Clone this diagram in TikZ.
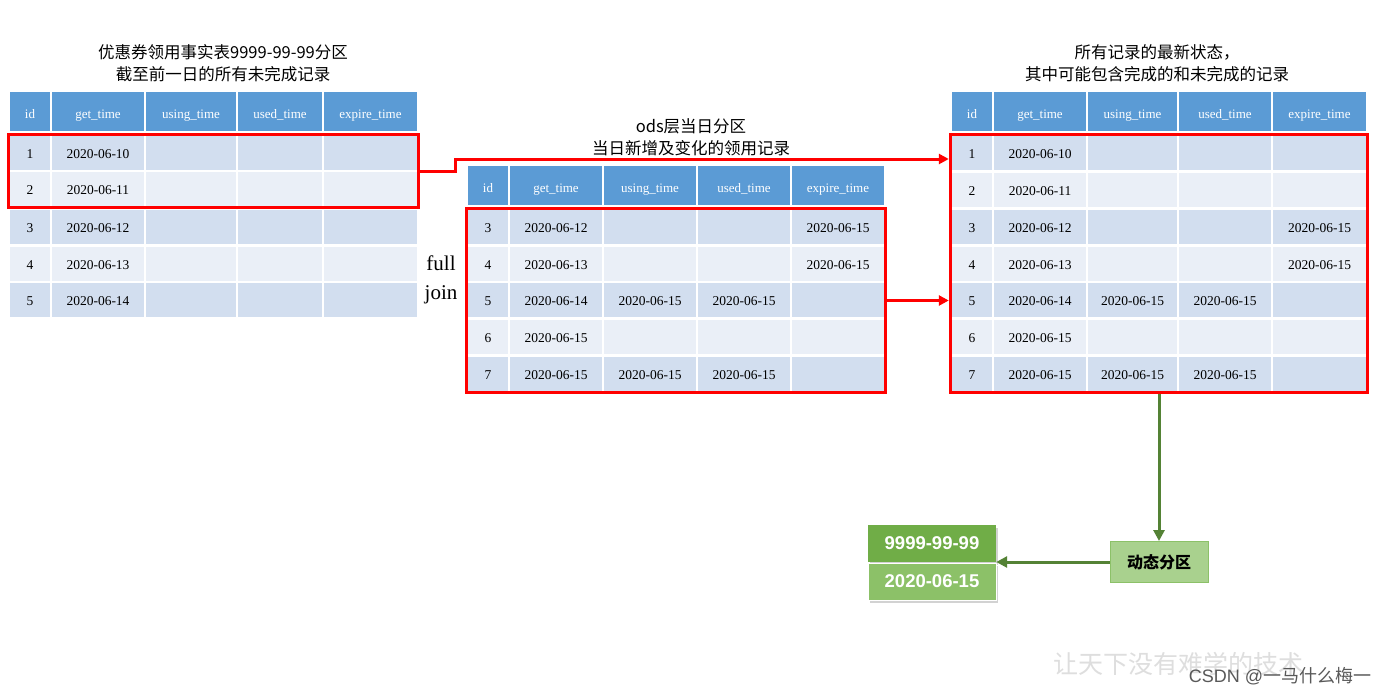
\documentclass[tikz,border=0pt]{standalone}
\usepackage{fontspec}
\setmainfont{Liberation Serif}
\newfontfamily\cjk{Noto Sans CJK SC}
\newfontfamily\arialfont{Liberation Sans}
\usetikzlibrary{arrows.meta, positioning, fit, shadows}
\definecolor{headblue}{RGB}{91,155,213}
\definecolor{rowdark}{RGB}{210,222,239}
\definecolor{rowlight}{RGB}{234,239,247}
\definecolor{selred}{RGB}{255,0,0}
\definecolor{partgreen}{RGB}{112,173,71}
\definecolor{partgreenlt}{RGB}{140,193,104}
\definecolor{dyngreen}{RGB}{169,209,142}
\definecolor{arrgreen}{RGB}{84,130,53}

\begin{document}
\begin{tikzpicture}[x=1pt, y=-1pt,
  head/.style={fill=headblue, text=white, minimum height=39, inner sep=0pt,
               text height=15pt, text depth=2pt,
               font=\fontsize{13}{15}\selectfont},
  cell/.style={minimum height=34, inner sep=0pt,
               text height=12pt, text depth=2pt,
               font=\fontsize{13.5}{15}\selectfont},
  title/.style={align=center, font=\cjk\fontsize{16.5}{22}\selectfont},
  selbox/.style={draw=selred, line width=3pt, inner sep=1.5pt},
  partbox/.style={minimum width=128, minimum height=37, text=white,
                  font=\arialfont\bfseries\fontsize{18.5}{20}\selectfont,
                  drop shadow={opacity=0.35, shadow xshift=1.5pt, shadow yshift=-3pt}},
  dynbox/.style={fill=dyngreen, draw=partgreenlt, line width=1pt,
                 minimum width=98, minimum height=41,
                 font=\cjk\bfseries\fontsize{16}{18}\selectfont},
  rarr/.style={-{Triangle[length=10pt, width=10pt]}, line width=3pt, selred},
  garr/.style={-{Triangle[length=11pt, width=11pt]}, line width=3pt, arrgreen}
]
\path[use as bounding box, fill=white] (0,0) rectangle (1390,693);

% titles
\node[title] (ttl1) at (223,63) {优惠券领用事实表9999-99-99分区\\截至前一日的所有未完成记录};
\node[title] (ttl2) at (691,137) {ods层当日分区\\当日新增及变化的领用记录};
\node[title] (ttl3) at (1157,63) {所有记录的最新状态，\\其中可能包含完成的和未完成的记录};

% table 1: 9999-99-99 partition
\foreach \col/\cx/\cw/\hd in {1/30/40/id, 2/98/92/get\_time, 3/191/90/using\_time,
                               4/280/84/used\_time, 5/370.5/93/expire\_time}
  \node[head, minimum width=\cw] (t1-h-\col) at (\cx,111.5) {\hd};
\foreach \rw/\y/\ga in {1/153/2020-06-10, 2/189/2020-06-11, 3/227/2020-06-12,
                        4/264/2020-06-13, 5/300/2020-06-14} {
  \ifodd\rw\relax \def\rf{rowdark}\else \def\rf{rowlight}\fi
  \node[cell, fill=\rf, minimum width=40] (t1-\rw-1) at (30,\y) {\rw};
  \node[cell, fill=\rf, minimum width=92] (t1-\rw-2) at (98,\y) {\ga};
  \node[cell, fill=\rf, minimum width=90] (t1-\rw-3) at (191,\y) {};
  \node[cell, fill=\rf, minimum width=84] (t1-\rw-4) at (280,\y) {};
  \node[cell, fill=\rf, minimum width=93] (t1-\rw-5) at (370.5,\y) {};
}

% table 2: ods partition of the day
\foreach \col/\cx/\cw/\hd in {1/488/40/id, 2/556/92/get\_time, 3/650/92/using\_time,
                               4/744/92/used\_time, 5/838/92/expire\_time}
  \node[head, minimum width=\cw] (t2-h-\col) at (\cx,185.5) {\hd};
\foreach \rw/\y/\ga/\gb/\gc/\gd in {
    3/227/2020-06-12/{}/{}/2020-06-15,
    4/264/2020-06-13/{}/{}/2020-06-15,
    5/300/2020-06-14/2020-06-15/2020-06-15/{},
    6/337/2020-06-15/{}/{}/{},
    7/374/2020-06-15/2020-06-15/2020-06-15/{}} {
  \ifodd\rw\relax \def\rf{rowdark}\else \def\rf{rowlight}\fi
  \node[cell, fill=\rf, minimum width=40] (t2-\rw-1) at (488,\y) {\rw};
  \node[cell, fill=\rf, minimum width=92] (t2-\rw-2) at (556,\y) {\ga};
  \node[cell, fill=\rf, minimum width=92] (t2-\rw-3) at (650,\y) {\gb};
  \node[cell, fill=\rf, minimum width=92] (t2-\rw-4) at (744,\y) {\gc};
  \node[cell, fill=\rf, minimum width=92] (t2-\rw-5) at (838,\y) {\gd};
}

% table 3: latest state
\foreach \col/\cx/\cw/\hd in {1/972/40/id, 2/1040/92/get\_time, 3/1132.5/89/using\_time,
                               4/1225/92/used\_time, 5/1319.5/93/expire\_time}
  \node[head, minimum width=\cw] (t3-h-\col) at (\cx,111.5) {\hd};
\foreach \rw/\y/\ga/\gb/\gc/\gd in {
    1/153/2020-06-10/{}/{}/{},
    2/190/2020-06-11/{}/{}/{},
    3/227/2020-06-12/{}/{}/2020-06-15,
    4/264/2020-06-13/{}/{}/2020-06-15,
    5/300/2020-06-14/2020-06-15/2020-06-15/{},
    6/337/2020-06-15/{}/{}/{},
    7/374/2020-06-15/2020-06-15/2020-06-15/{}} {
  \ifodd\rw\relax \def\rf{rowdark}\else \def\rf{rowlight}\fi
  \node[cell, fill=\rf, minimum width=40] (t3-\rw-1) at (972,\y) {\rw};
  \node[cell, fill=\rf, minimum width=92] (t3-\rw-2) at (1040,\y) {\ga};
  \node[cell, fill=\rf, minimum width=89] (t3-\rw-3) at (1132.5,\y) {\gb};
  \node[cell, fill=\rf, minimum width=92] (t3-\rw-4) at (1225,\y) {\gc};
  \node[cell, fill=\rf, minimum width=93] (t3-\rw-5) at (1319.5,\y) {\gd};
}

% red selections
\node[selbox, fit=(t1-1-1)(t1-2-5)] (sel1) {};
\node[selbox, fit=(t2-3-1)(t2-7-5)] (sel2) {};
\node[selbox, fit=(t3-1-1)(t3-7-5)] (sel3) {};

\node[font=\fontsize{21}{29}\selectfont, align=center] (fj) at (441,280) {full\\join};

% partitions
\node[dynbox] (dyn) at (1159,562) {动态分区};
\node[partbox, fill=partgreen] (stk-top) at (932,543.5) {9999-99-99};
\node[partbox, fill=partgreenlt, draw=white, line width=1pt] (stk-bot) at (932,581.5) {2020-06-15};

\coordinate (jog) at (455,159);
\draw[rarr] (sel1.east) -- (sel1.east -| jog) -- (jog) -- (jog -| sel3.west);
\draw[rarr] (sel2.east) -- (sel2.east -| sel3.west);
\draw[garr] (sel3.south) -- (dyn.north);
\draw[garr] (dyn.west) -- (dyn.west -| stk-top.east);

% watermark
\node[font=\cjk\fontsize{25}{25}\selectfont, text=black!13] (slogan) at (1178,664) {让天下没有难学的技术};
\node[font=\fontsize{18}{20}\selectfont, text=black!65] (csdn) at (1280,676)
  {\arialfont CSDN @\cjk 一马什么梅一};
\end{tikzpicture}
\end{document}
